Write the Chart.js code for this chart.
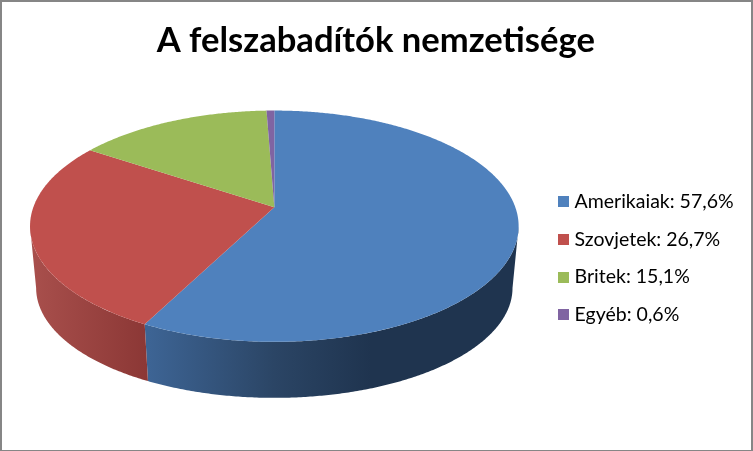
<!DOCTYPE html>
<html><head><meta charset="utf-8">
<style>
html,body{margin:0;padding:0;background:#fff}
#w{position:relative;width:753px;height:451px;overflow:hidden}
#w:after{content:"";position:absolute;left:0;top:0;right:0;bottom:0;border:2px solid #868686;border-bottom-width:1.5px;box-sizing:border-box;pointer-events:none}
canvas{display:block}
</style>
<script src="https://cdn.jsdelivr.net/npm/chart.js@4/dist/chart.umd.js"></script>
</head><body><div id="w"><canvas id="c" width="753" height="451"></canvas></div>
<script>
const titleText = "A felszabadítók nemzetisége";
const categories = ["Amerikaiak","Szovjetek","Britek","Egyéb"];
const values = [57.6,26.7,15.1,0.6];
const topColors = ["#4f81bd","#c0504d","#9bbb59","#8064a2"];
// horizontal shading of the rim, per slice: [fraction across the pie, colour]
const rimStops = [
  [[0.24,"#3d6494"],[0.50,"#2b4565"],[0.70,"#1f344f"],[1,"#1f344f"]],
  [[0,"#a84f4c"],[0.24,"#8b3735"]],
  [[0,"#7a8f45"],[1,"#7a8f45"]],
  [[0,"#614c7b"],[1,"#614c7b"]]
];
const tilt = 0.467, persp = -0.1638, apexShift = -51, sideShift = -2, depth = 56, depthGrow = 0.05, rimScale = 0.975;

function project(arc, a, rim){
  const x = Math.cos(a), y = Math.sin(a), d = 1 + persp*y;
  const R = arc.outerRadius, ay = arc.y + apexShift;
  let X = R*x/d, Y = R*tilt*y/d;
  if(rim){
    const front = R*tilt*1/(1+persp);
    X *= rimScale; Y += depth + (front - Y)*depthGrow;
  }
  return [arc.x + sideShift + X, ay + Y];
}
function trace(ctx, arc, a0, a1, rim, first){
  const n = Math.max(2, Math.ceil(Math.abs(a1-a0)*120));
  for(let i=0;i<=n;i++){
    const p = project(arc, a0+(a1-a0)*i/n, rim);
    if(i===0 && first) ctx.moveTo(p[0],p[1]); else ctx.lineTo(p[0],p[1]);
  }
}
const pie3d = {
  id:"pie3d",
  beforeDatasetDraw(chart){
    const ctx = chart.ctx, arcs = chart.getDatasetMeta(0).data;
    // the rim is visible between the two silhouette angles of the projected disc
    const lo = Math.asin(-persp), hi = Math.PI - lo;
    arcs.forEach((arc,i)=>{
      const a0 = Math.max(arc.startAngle,lo), a1 = Math.min(arc.endAngle,hi);
      if(a1<=a0) return;
      const R = arc.outerRadius, cx = arc.x + sideShift, g = ctx.createLinearGradient(cx-R,0,cx+R,0);
      rimStops[i].forEach(s=>g.addColorStop(s[0],s[1]));
      ctx.beginPath();
      trace(ctx,arc,a0,a1,false,true);
      trace(ctx,arc,a1,a0,true,false);
      ctx.closePath();
      ctx.fillStyle = g; ctx.fill();
    });
    arcs.forEach((arc,i)=>{
      ctx.beginPath();
      ctx.moveTo(arc.x + sideShift, arc.y + apexShift);
      trace(ctx,arc,arc.startAngle,arc.endAngle,false,false);
      ctx.closePath();
      ctx.fillStyle = topColors[i]; ctx.fill();
    });
    return false;
  }
};
function swatch(color){
  const s = document.createElement("canvas"); s.width = 11; s.height = 11;
  const c = s.getContext("2d"); c.fillStyle = color; c.fillRect(0,0,11,11);
  return s;
}
new Chart(document.getElementById("c"),{
  type:"pie",
  data:{labels:categories,datasets:[{data:values,backgroundColor:topColors,borderWidth:0}]},
  plugins:[pie3d],
  options:{
    responsive:false,animation:false,devicePixelRatio:1,
    radius:241,
    layout:{padding:{left:8,right:9.4,top:20,bottom:10}},
    plugins:{
      tooltip:{enabled:false},
      title:{display:true,text:titleText,color:"#000",font:{family:"Lato",size:34.6,weight:"bold"},padding:{top:0,bottom:14}},
      legend:{position:"right",fullSize:false,
        labels:{usePointStyle:true,pointStyleWidth:2,boxHeight:11,padding:18.2,color:"#000",font:{family:"Lato",size:19.5},
          generateLabels(chart){
            return categories.map((c,i)=>({text:c+": "+values[i].toFixed(1).replace(".",",")+"%",fillStyle:topColors[i],strokeStyle:topColors[i],pointStyle:swatch(topColors[i]),lineWidth:0,index:i,hidden:false}));
          }}}
    }
  }
});
</script></body></html>
